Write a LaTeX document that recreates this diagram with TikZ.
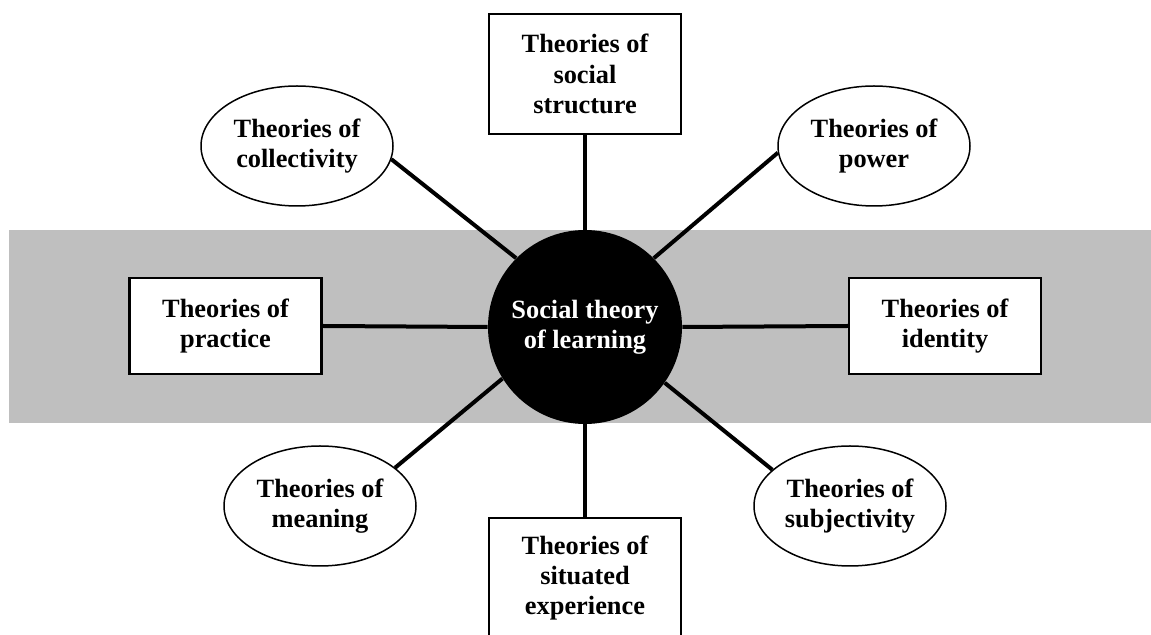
\documentclass[tikz,border=0pt]{standalone}
\usepackage{fontspec}
\setmainfont{Liberation Serif}
\usetikzlibrary{shapes.geometric}
\definecolor{bandgray}{RGB}{191,191,191}

\begin{document}
\begin{tikzpicture}[
        theorybox/.style = {draw, fill = white, line width = .45mm, align = center, inner sep = 0pt, minimum width = 3.84cm},
        theoryoval/.style = {ellipse, draw, fill = white, line width = .3mm, align = center, inner sep = 0pt, minimum width = 3.84cm, minimum height = 2.4cm},
        spoke/.style = {line width = .8mm},
        font = \fontsize{15}{17.3}\selectfont\bfseries]
        \useasboundingbox (0, 0) rectangle (23.02, 12.7);
        \fill[bandgray] (0.18, 4.24) rectangle (23.02, 8.10);
        \node[circle, fill = black, text = white, align = center, inner sep = 0pt, minimum size = 3.88cm] (hub) at (11.70, 6.16) {Social theory\\of learning};
        \node[theorybox, minimum height = 2.4cm] (structure) at (11.70, 11.22) {Theories of\\social\\structure};
        \node[theorybox, minimum height = 2.4cm] (situated) at (11.70, 1.14) {Theories of\\situated\\experience};
        \node[theorybox, minimum height = 1.92cm] (practice) at (4.51, 6.18) {Theories of\\practice};
        \node[theorybox, minimum height = 1.92cm] (identity) at (18.90, 6.18) {Theories of\\identity};
        \node[theoryoval] (collectivity) at (5.94, 9.78) {Theories of\\collectivity};
        \node[theoryoval] (power) at (17.48, 9.78) {Theories of\\power};
        \node[theoryoval] (meaning) at (6.40, 2.58) {Theories of\\meaning};
        \node[theoryoval] (subjectivity) at (17.00, 2.58) {Theories of\\subjectivity};
        \draw[spoke] (structure.south) -- (hub.north);
        \draw[spoke] (situated.north) -- (hub.south);
        \draw[spoke] (practice.east) -- (hub.west);
        \draw[spoke] (identity.west) -- (hub.east);
        \draw[spoke] (collectivity.-8) -- (hub.135);
        \draw[spoke] (power.184) -- (hub.45);
        \draw[spoke] (meaning.27) -- (hub.212);
        \draw[spoke] (subjectivity.155) -- (hub.325);
\end{tikzpicture}
\end{document}
